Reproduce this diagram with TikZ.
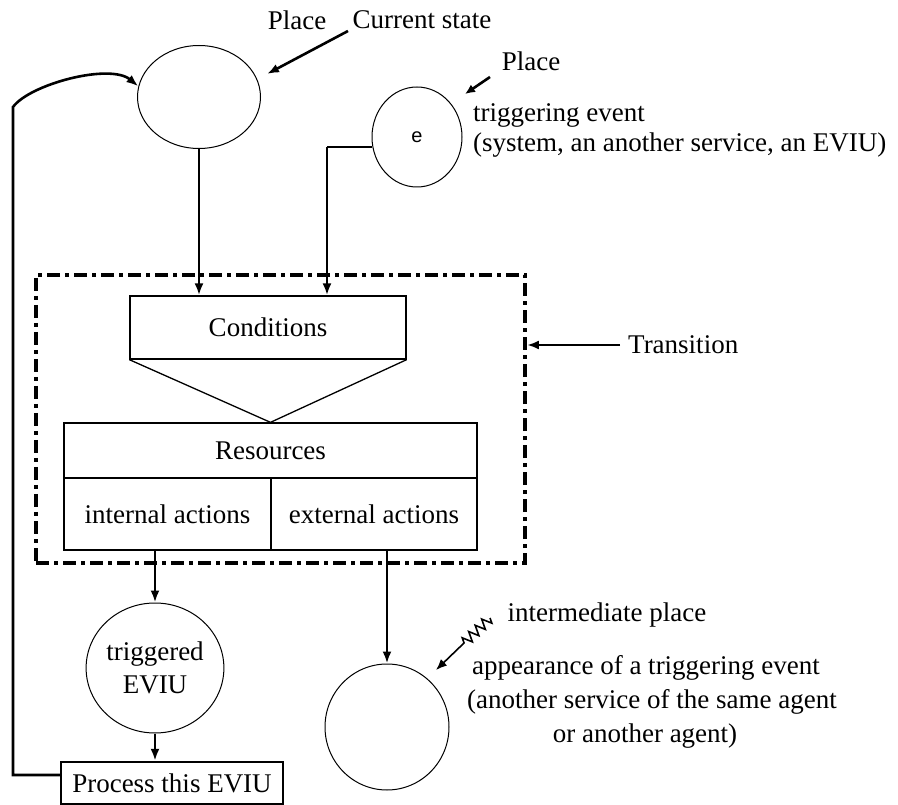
\documentclass[tikz,border=0pt]{standalone}
\usepackage{fontspec}
\setmainfont{Liberation Serif}
\setsansfont{Liberation Sans}
\usetikzlibrary{shapes.geometric,arrows.meta,decorations.pathmorphing}
\begin{document}
\begin{tikzpicture}[x=1pt,y=-1pt,
  every node/.style={font=\fontsize{27}{31}\selectfont},
  place/.style={draw,ellipse,line width=1pt,inner sep=0pt},
  boxs/.style={draw,rectangle,line width=1.3pt,inner sep=0pt},
  conn/.style={line width=2.6pt,-{Latex[length=12pt,width=9pt]}},
  lbl/.style={inner sep=0pt},
  tbx/.style={draw,rectangle,line width=3.8pt,dash pattern=on 13pt off 5pt on 4pt off 5pt,inner sep=0pt}
]
\useasboundingbox (0,0) rectangle (898,805);

% places
\node[place,minimum width=123pt,minimum height=103pt] (cur) at (199,97) {};
\node[place,minimum width=90pt,minimum height=100pt] (e) at (417,137) {\fontsize{20}{24}\selectfont\sffamily e};
\node[place,minimum width=134pt,minimum height=130pt,align=center] (trig) at (155,668) {triggered\\[2pt]EVIU};
\node[place,minimum width=124pt,minimum height=126pt] (inter) at (387,727) {};

% transition
\node[tbx,minimum width=489pt,minimum height=288pt] (tbox) at (280.5,419) {};
\node[boxs,minimum width=276pt,minimum height=63pt] (cond) at (268,327.5) {Conditions};
\node[boxs,minimum width=413pt,minimum height=55pt] (res) at (270.5,450.5) {Resources};
\node[boxs,minimum width=207pt,minimum height=72pt] (inta) at (167.5,514) {internal actions};
\node[boxs,minimum width=206pt,minimum height=72pt] (exta) at (374,514) {external actions};
\draw[line width=1.3pt] (cond.south west) -- (res.north) -- (cond.south east);

% process box
\node[draw,rectangle,line width=2.4pt,minimum width=222pt,minimum height=42pt,inner sep=0pt] (proc) at (172,783) {Process this EVIU};

% labels
\node[lbl] (pl1) at (297,20) {Place};
\node[lbl] (cs) at (422,20) {Current state};
\node[lbl] (pl2) at (531,61) {Place};
\node[lbl,anchor=west] (te1) at (473,115) {triggering event};
\node[lbl,anchor=west] (te2) at (473,145) {(system, an another service, an EVIU)};
\node[lbl,anchor=west] (trans) at (628,345) {Transition};
\node[lbl] (ip) at (607,615) {intermediate place};
\node[lbl] (ap1) at (646,668) {appearance of a triggering event};
\node[lbl] (ap2) at (652,702) {(another service of the same agent};
\node[lbl] (ap3) at (645,736) {or another agent)};

% label arrows
\coordinate (csA) at (348,31);
\coordinate (csB) at (267,74);
\draw[line width=2.6pt,-{Latex[length=12pt,width=9pt]}] (csA) -- (csB);
\coordinate (plA) at (490,77);
\coordinate (plB) at (465,94);
\draw[line width=2.6pt,-{Latex[length=10pt,width=9pt]}] (plA) -- (plB);
\draw[line width=2.6pt,-{Latex[length=12pt,width=9pt]}] ([xshift=-8pt]trans.west) -- (tbox.east |- trans.west);
\coordinate (zA) at (490,618);
\coordinate (zB) at (436,670);
\draw[line width=1.6pt,-{Latex[length=11pt,width=9pt]},decoration={zigzag,segment length=9pt,amplitude=5pt,post length=36pt},decorate] (zA) -- (zB);

% connectors
\draw[conn] (cur.south) -- (cur.south |- cond.north);
\coordinate (ex) at (327,0);
\draw[line width=1.8pt] (e.193) -- (e.193 -| ex);
\draw[conn] (e.193 -| ex) -- (ex |- cond.north);
\draw[conn] (inta.south -| trig) -- (trig.north);
\draw[conn] (exta.south -| inter) -- (inter.north);
\draw[conn] (trig.south) -- (trig.south |- proc.north);
\coordinate (fb) at (13,107);
\draw[conn] ([yshift=8pt]proc.west) -| (fb) .. controls (30,84) and (110,63) .. (cur.170);
\end{tikzpicture}
\end{document}
